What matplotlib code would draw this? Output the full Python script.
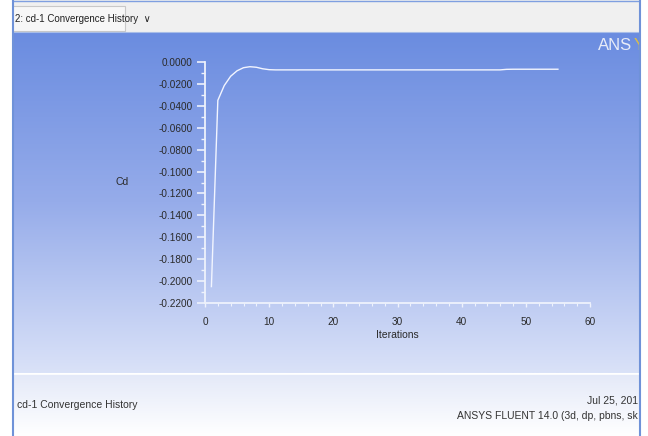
import numpy as np
import matplotlib
matplotlib.use("Agg")
import matplotlib.pyplot as plt
from matplotlib.patches import Rectangle
from matplotlib.ticker import MultipleLocator

plt.rcParams['font.family'] = ['Liberation Sans', 'DejaVu Sans']

# cd-1 monitor history, one value per iteration
iterations = list(range(1, 56))
cd = [-0.2050, -0.0350, -0.0215, -0.0130, -0.0080, -0.0052, -0.0043, -0.0048, -0.0062, -0.0070,
      -0.0072, -0.0072, -0.0072, -0.0072, -0.0072, -0.0072, -0.0072, -0.0072, -0.0072, -0.0072,
      -0.0072, -0.0072, -0.0072, -0.0072, -0.0072, -0.0072, -0.0072, -0.0072, -0.0072, -0.0072,
      -0.0072, -0.0072, -0.0072, -0.0072, -0.0072, -0.0072, -0.0072, -0.0072, -0.0072, -0.0072,
      -0.0072, -0.0072, -0.0072, -0.0072, -0.0072, -0.0072, -0.0067, -0.0066, -0.0066, -0.0066,
      -0.0066, -0.0066, -0.0066, -0.0066, -0.0066]
x_ticks = [0, 10, 20, 30, 40, 50, 60]
y_ticks = [0.0, -0.02, -0.04, -0.06, -0.08, -0.10, -0.12, -0.14, -0.16, -0.18, -0.20, -0.22]

W, H = 648, 436
fig = plt.figure(figsize=(W / 100, H / 100), dpi=100)
fig.patch.set_facecolor('white')

# window chrome drawn in pixel coordinates
bg = fig.add_axes([0, 0, 1, 1])
bg.set_xlim(0, W)
bg.set_ylim(H, 0)
bg.axis('off')

top = np.array([106, 140, 224]) / 255
mid = np.array([150, 172, 234]) / 255
low = np.array([218, 226, 248]) / 255
t = np.linspace(0, 1, 300)[:, None]
grad = np.where(t < 0.5, top + (mid - top) * (t / 0.5), mid + (low - mid) * ((t - 0.5) / 0.5))
bg.imshow(grad[:, None, :], extent=(12, 640, 373, 32), aspect='auto', zorder=0)

t2 = np.linspace(0, 1, 100)[:, None]
c0 = np.array([228, 233, 248]) / 255
c1 = np.array([255, 255, 255]) / 255
grad2 = c0 + (c1 - c0) * t2
bg.imshow(grad2[:, None, :], extent=(12, 640, 436, 374), aspect='auto', zorder=0)
bg.plot([12, 640], [373.5, 373.5], color='white', lw=1.2, zorder=1)

# title bar and tab
bg.add_patch(Rectangle((12, 0), 628, 32, facecolor='#f0f0f0', edgecolor='none', zorder=1))
bg.add_patch(Rectangle((12, 6), 113, 25, facecolor='#f7f7f7', edgecolor='#c8c8c8', lw=0.8, zorder=2))
bg.text(15, 18.5, '2: cd-1 Convergence History  \u2228', fontsize=7, color='#222222',
        va='center', ha='left', zorder=3)
bg.plot([12, 640], [1.5, 1.5], color='#7f9fe0', lw=1.0, zorder=3)
bg.plot([12, 640], [32, 32], color='#a8bde8', lw=0.8, zorder=3)

# logo in the corner, cut by the frame
bg.text(598, 45, 'ANS', fontsize=12, color='#e8ecf8', va='center', ha='left', zorder=2)
bg.text(634, 45, 'Y', fontsize=12, color='#e0c040', va='center', ha='left', zorder=2)
bg.add_patch(Rectangle((640, 0), 8, H, facecolor='white', edgecolor='none', zorder=4))
bg.add_patch(Rectangle((0, 0), 12, H, facecolor='white', edgecolor='none', zorder=4))
bg.plot([12.5, 12.5], [0, H], color='#6f92d8', lw=1.5, zorder=5)
bg.plot([640, 640], [0, H], color='#6f92d8', lw=1.5, zorder=5)

# footer
bg.text(17, 405, 'cd-1 Convergence History', fontsize=7.5, color='#333333', va='center', ha='left', zorder=3)
bg.text(638, 400, 'Jul 25, 201', fontsize=7.5, color='#333333', va='center', ha='right', zorder=3)
bg.text(638, 416, 'ANSYS FLUENT 14.0 (3d, dp, pbns, sk', fontsize=7.5, color='#333333',
        va='center', ha='right', zorder=3)

# plot axes
ax = fig.add_axes([205 / W, 1 - 303 / H, (590 - 205) / W, (303 - 62) / H])
ax.set_facecolor('none')
ax.plot(iterations, cd, color='#f2f5ff', lw=1.0)
ax.set_xlim(0, 60)
ax.set_ylim(-0.22, 0.0)
ax.set_xticks(x_ticks)
ax.set_yticks(y_ticks)
ax.set_yticklabels(['%.4f' % v for v in y_ticks])
ax.xaxis.set_minor_locator(MultipleLocator(2))
ax.yaxis.set_minor_locator(MultipleLocator(0.01))
for side in ['top', 'right']:
    ax.spines[side].set_visible(False)
for side in ['left', 'bottom']:
    ax.spines[side].set_color('#eef2fc')
    ax.spines[side].set_linewidth(1.3)
ax.tick_params(axis='y', which='major', length=6, width=1.2, color='#eef2fc',
               labelsize=7.2, labelcolor='#2a2a2a', pad=3)
ax.tick_params(axis='y', which='minor', length=3, width=1.0, color='#eef2fc')
ax.tick_params(axis='x', which='major', length=3, width=1.0, color='#eef2fc',
               labelsize=7.2, labelcolor='#2a2a2a', pad=7)
ax.tick_params(axis='x', which='minor', length=2, width=0.8, color='#eef2fc')
ax.set_xlabel('Iterations', fontsize=7.5, color='#2a2a2a', labelpad=2)
ax.set_ylabel('Cd', fontsize=7.5, color='#2a2a2a', rotation=0, labelpad=0)
ax.yaxis.set_label_coords((122 - 205) / (590 - 205), (303 - 187) / (303 - 62))

fig.savefig('out.png', dpi=100)
